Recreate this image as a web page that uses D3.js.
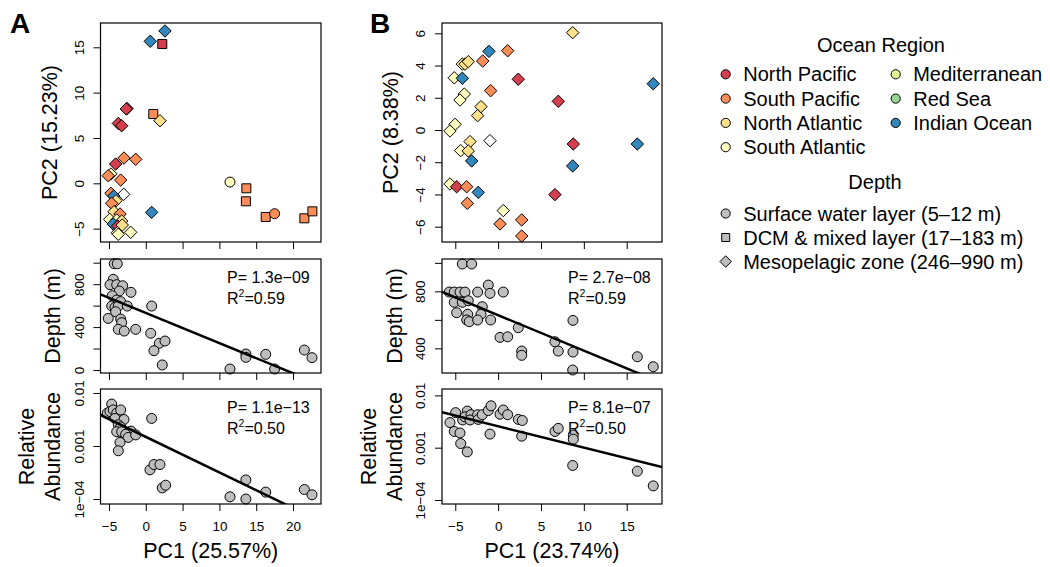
<!DOCTYPE html>
<html>
<head>
<meta charset="utf-8">
<script src="https://cdn.jsdelivr.net/npm/d3@7"></script>
<style>
  body { margin: 0; background: #fff; }
  svg { font-family: "Liberation Sans", Arial, Helvetica, sans-serif; }
</style>
</head>
<body>
<svg width="1050" height="567"></svg>
<script>
// ---- data ----
const regionCodes = ["NP", "SP", "NA", "SA", "MED", "RS", "IO"];
const regionNames = ["North Pacific", "South Pacific", "North Atlantic", "South Atlantic", "Mediterranean", "Red Sea", "Indian Ocean"];
const layerCodes = ["S", "D", "M"];
const layerNames = ["Surface water layer (5\u201312 m)", "DCM & mixed layer (17\u2013183 m)", "Mesopelagic zone (246\u2013990 m)"];

// panel A, PCA
const pcaA_pc1 = [2.61, 0.61, 2.24, -2.55, -2.65, -3.73, -3.27, 1.02, 1.93, -2.96, -1.37, -4.09, -4.73, -5.1, -3.41, -3.0, -4.73, -4.35, -4.05, -4.64, -4.32, -3.5, -4.9, -3.95, -3.27, -4.42, -3.82, -3.19, -3.87, -3.73, -2.05, 0.8, 11.44, 13.66, 13.6, 16.29, 17.5, 21.54, 22.63];
const pcaA_pc2 = [16.8, 15.66, 15.36, 8.25, 8.2, 6.6, 6.35, 7.64, 6.9, 2.79, 2.65, 2.13, 1.03, 0.84, 0.36, -1.21, -1.1, -1.4, -1.92, -2.2, -3.13, -3.38, -3.97, -4.05, -4.16, -4.49, -4.71, -4.6, -5.45, -5.62, -5.4, -3.2, 0.14, -0.55, -1.98, -3.71, -3.35, -3.86, -3.09];
const pcaA_region = ["IO", "IO", "NP", "NP", "NP", "NP", "NP", "SP", "NA", "SP", "SP", "NP", "SA", "SP", "SP", "", "SP", "IO", "NA", "SP", "NA", "SP", "SA", "SA", "NA", "IO", "NP", "NA", "SA", "SA", "SA", "IO", "SA", "SP", "SP", "SP", "SP", "SP", "SP"];
const pcaA_layer = ["M", "M", "D", "M", "M", "M", "M", "D", "M", "M", "M", "M", "M", "M", "M", "M", "M", "M", "M", "M", "M", "M", "M", "M", "M", "M", "M", "M", "M", "M", "M", "M", "S", "D", "D", "D", "S", "D", "D"];

// panel B, PCA
const pcaB_pc1 = [8.7, -1.07, 1.11, -1.8, -4.18, -3.87, -3.48, -5.12, -4.18, 2.35, -0.87, 7.02, -3.95, -4.45, -2.0, -2.39, -5.03, -5.62, -0.95, 8.77, 16.24, 18.1, -3.28, -4.37, -3.48, -3.09, 8.7, -5.62, -4.84, -3.67, -2.32, 6.63, -3.6, 0.6, 0.22, 2.75, 2.75];
const pcaB_pc2 = [6.04, 4.88, 4.92, 4.28, 4.09, 4.09, 4.24, 3.24, 3.21, 3.15, 2.44, 1.78, 2.23, 1.86, 1.45, 0.89, 0.35, -0.06, -0.66, -0.87, -0.87, 2.87, -0.72, -1.28, -1.3, -1.92, -2.23, -3.35, -3.52, -3.52, -3.87, -4.01, -4.55, -5.0, -5.83, -5.58, -6.58];
const pcaB_region = ["NA", "IO", "SP", "SP", "SA", "NA", "NA", "SA", "IO", "NP", "SP", "NP", "SA", "SA", "NA", "NA", "SA", "SA", "", "NP", "IO", "IO", "NA", "SA", "NA", "IO", "IO", "SA", "NP", "SP", "IO", "NP", "SP", "SA", "SP", "SP", "SP"];
const pcaB_layer = ["M", "M", "M", "M", "M", "M", "M", "M", "M", "M", "M", "M", "M", "M", "M", "M", "M", "M", "M", "M", "M", "M", "M", "M", "M", "M", "M", "M", "M", "M", "M", "M", "M", "M", "M", "M", "M"];

// depth vs PC1
const depthA_pc1 = [-4.28, -3.87, -4.42, -4.86, -3.95, -3.14, -3.6, -2.01, -4.55, -3.95, -3.41, -4.63, -4.18, -3.73, -2.51, 0.8, -4.09, -5.1, -3.41, -3.27, -3.73, -2.92, -1.37, 0.67, 1.83, 2.61, 1.11, 2.24, 11.44, 13.6, 13.6, 16.29, 17.5, 21.54, 22.58];
const depthA_m = [990, 990, 845, 795, 795, 785, 736, 724, 692, 652, 637, 596, 584, 596, 596, 596, 543, 481, 475, 441, 379, 363, 379, 342, 249, 270, 180, 47, 9, 149, 118, 146, 9, 186, 115];
const depthB_pc1 = [-4.18, -3.09, -5.7, -5.12, -4.45, -3.87, -2.39, 0.6, -1.15, -0.95, -5.12, -4.18, -3.48, -1.85, -4.84, -3.55, -2.0, -3.67, -3.37, -2.39, -0.87, 0.22, 1.11, 2.35, 2.75, 2.75, 6.63, 7.02, 8.73, 8.73, 8.7, 16.24, 18.1];
const depthB_m = [992, 992, 795, 795, 795, 795, 795, 795, 844, 786, 723, 723, 734, 692, 650, 639, 639, 599, 587, 599, 599, 477, 481, 545, 381, 351, 446, 381, 596, 374, 248, 341, 271];

// relative abundance vs PC1
const abundA_pc1 = [-4.63, -5.23, -4.86, -4.42, -3.95, -3.41, -4.18, -2.96, -3.73, -3.41, -3.95, -3.27, -2.01, -2.73, -2.38, -1.37, -3.5, -3.73, 0.8, 0.57, 1.11, 1.93, 2.24, 2.7, 11.44, 13.6, 13.6, 16.29, 21.54, 22.58];
const abundA_val = [0.00617, 0.00417, 0.00447, 0.00479, 0.00417, 0.00479, 0.00331, 0.00316, 0.00251, 0.00229, 0.00186, 0.00186, 0.00191, 0.00166, 0.00145, 0.00162, 0.00117, 0.000813, 0.00331, 0.000355, 0.000447, 0.000447, 0.000162, 0.000182, 0.00011, 0.000229, 0.0001, 0.000135, 0.000151, 0.00012];
const abundB_pc1 = [-5.62, -4.96, -5.12, -4.45, -4.37, -3.6, -4.14, -3.6, -3.87, -3.17, -3.28, -2.39, -2.32, -1.85, -1.15, -0.83, -0.95, 0.22, 0.6, 1.11, 2.35, 2.82, 2.75, 6.63, 7.02, 8.77, 8.77, 8.7, 16.24, 18.1];
const abundB_val = [0.00302, 0.00468, 0.00204, 0.00191, 0.0012, 0.000832, 0.00339, 0.00501, 0.00389, 0.00427, 0.00339, 0.00427, 0.00347, 0.00427, 0.00513, 0.00631, 0.00182, 0.00437, 0.00525, 0.00427, 0.00347, 0.00331, 0.00166, 0.00204, 0.00234, 0.00174, 0.00145, 0.000457, 0.000355, 0.000186];

// fitted lines [intercept, slope]; abundance fits are on log10 scale
const depthFitA = [532, -28.1], depthFitB = [633, -24.9];
const abundFitA = [-2.828, -0.0671], abundFitB = [-2.591, -0.0408];
const depthStats = [["1.3e\u221209", "0.59"], ["2.7e\u221208", "0.59"]];
const abundStats = [["1.1e\u221213", "0.50"], ["8.1e\u221207", "0.50"]];

const pcTicksA = [-5, 0, 5, 10, 15, 20], pcTicksB = [-5, 0, 5, 10, 15];
const pc2TicksA = [-5, 0, 5, 10, 15], pc2TicksB = [-6, -4, -2, 0, 2, 4, 6];
const depthTicks = [0, 200, 400, 600, 800, 1000], depthLabels = [0, 400, 800];
const abundTicks = [0.0001, 0.001, 0.01], abundLabels = ["1e\u221204", "0.001", "0.01"];

// ---- drawing ----
const svg = d3.select("svg");
const regionFill = d3.scaleOrdinal().domain(regionCodes)
  .range(["#D53E4F", "#FC8D59", "#FEE08B", "#FFFFBF", "#E6F598", "#99D594", "#3288BD"])
  .unknown("#FFFFFF");
const GREY = "#BEBEBE";

const diamond = {
  draw(ctx, size) {
    const h = Math.sqrt(size / 2);
    ctx.moveTo(0, -h); ctx.lineTo(h, 0); ctx.lineTo(0, h); ctx.lineTo(-h, 0); ctx.closePath();
  }
};
const symbolFor = { S: d3.symbol(d3.symbolCircle, 78), D: d3.symbol(d3.symbolSquare, 81), M: d3.symbol(diamond, 77) };

const rowsY = { top: [242, 23], mid: [373, 259], bot: [504, 389] };
const cols = [
  { key: "A", range: [100.5, 321], domain: [-6.15, 23.8], ticks: pcTicksA, pc2Domain: [-6.47, 17.68], pc2Ticks: pc2TicksA,
    depthDomain: [-28, 1034.5], abundDomain: [-4.094, -1.925], pc1Label: "PC1 (25.57%)", pc2Label: "PC2 (15.23%)",
    pca: [pcaA_pc1, pcaA_pc2, pcaA_region, pcaA_layer], depth: [depthA_pc1, depthA_m], abund: [abundA_pc1, abundA_val],
    depthFit: depthFitA, abundFit: abundFitA, dStats: depthStats[0], aStats: abundStats[0], letterX: 10 },
  { key: "B", range: [442, 662], domain: [-6.55, 19.12], ticks: pcTicksB, pc2Domain: [-6.95, 6.64], pc2Ticks: pc2TicksB,
    depthDomain: [227, 1027], abundDomain: [-4.077, -1.878], pc1Label: "PC1 (23.74%)", pc2Label: "PC2 (8.38%)",
    pca: [pcaB_pc1, pcaB_pc2, pcaB_region, pcaB_layer], depth: [depthB_pc1, depthB_m], abund: [abundB_pc1, abundB_val],
    depthFit: depthFitB, abundFit: abundFitB, dStats: depthStats[1], aStats: abundStats[1], letterX: 370 }
];

function box(x, y) {
  svg.append("rect")
    .attr("x", x.range()[0]).attr("y", y.range()[1])
    .attr("width", x.range()[1] - x.range()[0])
    .attr("height", y.range()[0] - y.range()[1])
    .attr("fill", "none").attr("stroke", "#000").attr("stroke-width", 1.2);
}

function bottomAxis(x, y, ticks, labels) {
  const g = svg.append("g")
    .attr("transform", `translate(0,${y.range()[0]})`)
    .call(d3.axisBottom(x).tickValues(ticks).tickSize(7).tickSizeOuter(0).tickPadding(10)
      .tickFormat(labels ? d3.format("") : () => ""));
  g.select(".domain").remove();
  g.attr("font-size", 13.5).attr("font-family", null);
  g.selectAll("line").attr("stroke", "#000");
  g.selectAll("text").attr("fill", "#000");
}

function leftAxis(x, y, ticks, fmt) {
  const g = svg.append("g")
    .attr("transform", `translate(${x.range()[0]},0)`)
    .call(d3.axisLeft(y).tickValues(ticks).tickSize(7).tickSizeOuter(0).tickFormat(fmt));
  g.select(".domain").remove();
  g.attr("font-size", 13.5).attr("font-family", null);
  g.selectAll("line").attr("stroke", "#000");
  g.selectAll(".tick text")
    .attr("x", null).attr("dy", null).attr("fill", "#000")
    .attr("text-anchor", "middle")
    .attr("transform", "translate(-17,0) rotate(-90)");
}

function yTitle(x, y, lines, off) {
  const cy = (y.range()[0] + y.range()[1]) / 2;
  const t = svg.append("g")
    .attr("transform", `translate(${x.range()[0] - off},${cy}) rotate(-90)`)
    .attr("font-size", 21.5).attr("text-anchor", "middle");
  lines.forEach((s, i) => {
    t.append("text").attr("y", -26 * (lines.length - 1 - i)).text(s);
  });
}

function clipFor(id, x, y) {
  svg.append("clipPath").attr("id", id).append("rect")
    .attr("x", x.range()[0]).attr("y", y.range()[1])
    .attr("width", x.range()[1] - x.range()[0])
    .attr("height", y.range()[0] - y.range()[1]);
  return `url(#${id})`;
}

function stats(x, y, s) {
  const tx = x.range()[1] - 94, ty = y.range()[1];
  const g = svg.append("g").attr("font-size", 16);
  g.append("text").attr("x", tx).attr("y", ty + 24).text("P= " + s[0]);
  const r = g.append("text").attr("x", tx).attr("y", ty + 45);
  r.append("tspan").text("R");
  r.append("tspan").attr("font-size", 10.5).attr("dy", -7).text("2");
  r.append("tspan").attr("dy", 7).text("=" + s[1]);
}

function greyPoints(x, y, xs, ys) {
  svg.append("g").selectAll("circle")
    .data(xs.map((v, i) => [v, ys[i]]))
    .enter().append("circle")
    .attr("cx", d => x(d[0])).attr("cy", d => y(d[1]))
    .attr("r", 5)
    .attr("fill", GREY).attr("stroke", "#000").attr("stroke-width", 1);
}

cols.forEach(c => {
  const x = d3.scaleLinear().domain(c.domain).range(c.range);

  // top: PCA scatter
  const yTop = d3.scaleLinear().domain(c.pc2Domain).range(rowsY.top);
  const [p1, p2, reg, lay] = c.pca;
  svg.append("g").selectAll("path")
    .data(p1.map((v, i) => ({ x: v, y: p2[i], region: reg[i], layer: lay[i] })))
    .enter().append("path")
    .attr("d", d => symbolFor[d.layer]())
    .attr("transform", d => `translate(${x(d.x)},${yTop(d.y)})`)
    .attr("fill", d => regionFill(d.region))
    .attr("stroke", "#000").attr("stroke-width", 1);
  box(x, yTop);
  bottomAxis(x, yTop, c.ticks, false);
  leftAxis(x, yTop, c.pc2Ticks, d3.format(""));
  yTitle(x, yTop, [c.pc2Label], 44);

  // middle: depth
  const yMid = d3.scaleLinear().domain(c.depthDomain).range(rowsY.mid);
  greyPoints(x, yMid, c.depth[0], c.depth[1]);
  svg.append("line")
    .attr("clip-path", clipFor("clipMid" + c.key, x, yMid))
    .attr("x1", x(c.domain[0])).attr("y1", yMid(c.depthFit[0] + c.depthFit[1] * c.domain[0]))
    .attr("x2", x(c.domain[1])).attr("y2", yMid(c.depthFit[0] + c.depthFit[1] * c.domain[1]))
    .attr("stroke", "#000").attr("stroke-width", 2.5);
  box(x, yMid);
  bottomAxis(x, yMid, c.ticks, false);
  leftAxis(x, yMid, depthTicks.filter(t => t >= c.depthDomain[0] && t <= c.depthDomain[1]),
    d => depthLabels.includes(d) ? String(d) : "");
  yTitle(x, yMid, ["Depth (m)"], 40.5);
  stats(x, yMid, c.dStats);

  // bottom: relative abundance (log)
  const yBot = d3.scaleLog().domain(c.abundDomain.map(v => Math.pow(10, v))).range(rowsY.bot);
  greyPoints(x, yBot, c.abund[0], c.abund[1]);
  const fitAt = v => Math.pow(10, c.abundFit[0] + c.abundFit[1] * v);
  svg.append("line")
    .attr("clip-path", clipFor("clipBot" + c.key, x, yBot))
    .attr("x1", x(c.domain[0])).attr("y1", yBot(fitAt(c.domain[0])))
    .attr("x2", x(c.domain[1])).attr("y2", yBot(fitAt(c.domain[1])))
    .attr("stroke", "#000").attr("stroke-width", 2.5);
  box(x, yBot);
  bottomAxis(x, yBot, c.ticks, true);
  leftAxis(x, yBot, abundTicks, d => abundLabels[abundTicks.indexOf(d)]);
  yTitle(x, yBot, ["Relative", "Abundance"], 40.5);
  stats(x, yBot, c.aStats);

  svg.append("text")
    .attr("x", (c.range[0] + c.range[1]) / 2).attr("y", rowsY.bot[0] + 54)
    .attr("text-anchor", "middle").attr("font-size", 21.5)
    .text(c.pc1Label);

  svg.append("text")
    .attr("x", c.letterX).attr("y", 33)
    .attr("font-size", 28).attr("font-weight", "bold")
    .text(c.key);
});

// ---- legend ----
const legend = svg.append("g").attr("font-size", 20);
legend.append("text").attr("x", 881).attr("y", 52).attr("text-anchor", "middle").text("Ocean Region");

const regionItems = legend.selectAll("g.region")
  .data(regionCodes.map((code, i) => ({ code, name: regionNames[i], col: i < 4 ? 0 : 1, row: i < 4 ? i : i - 4 })))
  .enter().append("g").attr("class", "region")
  .attr("transform", d => `translate(${d.col ? 895.7 : 725.7},${74.3 + d.row * 24.3})`);
regionItems.append("circle").attr("r", 4.6)
  .attr("fill", d => regionFill(d.code)).attr("stroke", "#000").attr("stroke-width", 1);
regionItems.append("text").attr("x", 17.5).attr("y", 7).text(d => d.name);

legend.append("text").attr("x", 875).attr("y", 189).attr("text-anchor", "middle").text("Depth");
const layerItems = legend.selectAll("g.layer")
  .data(layerCodes.map((code, i) => ({ code, name: layerNames[i], row: i })))
  .enter().append("g").attr("class", "layer")
  .attr("transform", d => `translate(725.7,${213.5 + d.row * 24})`);
layerItems.append("path")
  .attr("d", d => d3.symbol(d.code === "S" ? d3.symbolCircle : d.code === "D" ? d3.symbolSquare : diamond,
    d.code === "S" ? 66 : d.code === "D" ? 64 : 66)())
  .attr("fill", GREY).attr("stroke", "#000").attr("stroke-width", 1);
layerItems.append("text").attr("x", 17.5).attr("y", 7).text(d => d.name);
</script>
</body>
</html>
